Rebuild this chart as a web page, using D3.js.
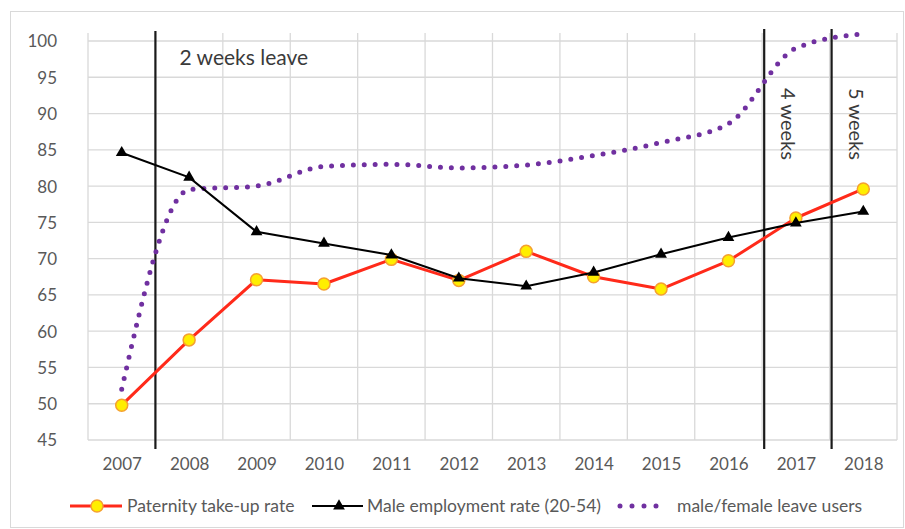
<!DOCTYPE html>
<html>
<head>
<meta charset="utf-8">
<script src="https://cdn.jsdelivr.net/npm/d3@7"></script>
<style>
  body { margin: 0; background: #fff; }
  text { font-family: Lato, "Open Sans", sans-serif; }
</style>
</head>
<body>
<div id="chart"></div>
<script>
// data
const years = [2007, 2008, 2009, 2010, 2011, 2012, 2013, 2014, 2015, 2016, 2017, 2018];
const paternityRate = [49.8, 58.8, 67.1, 66.5, 69.9, 67.0, 71.0, 67.5, 65.8, 69.7, 75.6, 79.6];
const employmentRate = [84.6, 81.2, 73.7, 72.1, 70.5, 67.3, 66.2, 68.1, 70.6, 72.9, 74.9, 76.5];
const leaveUsers = [52.0, 79.5, 80.0, 82.7, 83.0, 82.5, 82.9, 84.2, 86.0, 88.6, 99.0, 101.0];
const yTicks = [45, 50, 55, 60, 65, 70, 75, 80, 85, 90, 95, 100];
const events = [
  { year: 2007.5, label: "2 weeks leave", vertical: false },
  { year: 2016.53, label: "4 weeks", vertical: true },
  { year: 2017.53, label: "5 weeks", vertical: true },
];
const seriesNames = ["Paternity take-up rate", "Male employment rate (20-54)", "male/female leave users"];

const W = 905, H = 529;
const plot = { left: 88, right: 897, top: 33, bottom: 440 };
const GRID = "#d9d9d9", LABEL = "#595959";

const svg = d3.select("#chart").append("svg").attr("width", W).attr("height", H);

// chart border
svg.append("rect")
  .attr("x", 10.5).attr("y", 11.5)
  .attr("width", W - 12).attr("height", H - 13)
  .attr("fill", "none").attr("stroke", GRID);

const x = d3.scaleLinear().domain([2006.5, 2018.5]).range([plot.left, plot.right]);
const y = d3.scaleLinear().domain([45, 101.1]).range([plot.bottom, plot.top]);

// grid
const grid = svg.append("g");
grid.selectAll(".h").data(yTicks).join("line")
  .attr("x1", plot.left).attr("x2", plot.right)
  .attr("y1", (d) => y(d)).attr("y2", (d) => y(d))
  .attr("stroke", GRID).attr("stroke-width", 1.3);
grid.selectAll(".v").data(d3.range(years.length + 1)).join("line")
  .attr("x1", (i) => x(2006.5 + i)).attr("x2", (i) => x(2006.5 + i))
  .attr("y1", plot.top).attr("y2", plot.bottom)
  .attr("stroke", GRID).attr("stroke-width", 1.3);

// axes
const yAxis = svg.append("g")
  .attr("transform", `translate(${plot.left - 31},0)`)
  .call(d3.axisLeft(y).tickValues(yTicks).tickSize(0).tickPadding(0));
yAxis.select(".domain").remove();
yAxis.selectAll("text").attr("fill", LABEL).style("font-size", "17px").attr("dy", "0.35em");

const xAxis = svg.append("g")
  .attr("transform", `translate(0,${plot.bottom + 18})`)
  .call(d3.axisBottom(x).tickValues(years).tickFormat(d3.format("d")).tickSize(0).tickPadding(0));
xAxis.select(".domain").remove();
xAxis.selectAll("text").attr("fill", LABEL).style("font-size", "17px");

// event lines
const ev = svg.append("g");
ev.selectAll("line").data(events).join("line")
  .attr("x1", (d) => x(d.year)).attr("x2", (d) => x(d.year))
  .attr("y1", (d) => (d.vertical ? 29 : 31)).attr("y2", 449)
  .attr("stroke", "#1a1a1a").attr("stroke-width", 2.2);
ev.selectAll("text").data(events).join("text")
  .text((d) => d.label)
  .attr("fill", "#3a3a3a")
  .style("font-size", (d) => (d.vertical ? "20px" : "21px"))
  .attr("transform", (d) =>
    d.vertical
      ? `translate(${x(d.year) + 17},88) rotate(90)`
      : `translate(${x(d.year) + 24},65)`
  );

// series
const leaveData = years.map((yr, i) => [yr, leaveUsers[i]]);
const patData = years.map((yr, i) => [yr, paternityRate[i]]);
const empData = years.map((yr, i) => [yr, employmentRate[i]]);

svg.append("path")
  .datum(leaveData)
  .attr("fill", "none")
  .attr("stroke", "#7030a0")
  .attr("stroke-width", 5)
  .attr("stroke-linecap", "round")
  .attr("stroke-dasharray", "0 10.9")
  .attr("d", d3.line().x((d) => x(d[0])).y((d) => y(d[1])).curve(d3.curveMonotoneX));

const lineGen = d3.line().x((d) => x(d[0])).y((d) => y(d[1]));

svg.append("path")
  .datum(patData)
  .attr("fill", "none").attr("stroke", "#ff2a1a").attr("stroke-width", 3)
  .attr("stroke-linejoin", "round")
  .attr("d", lineGen);
svg.append("g").selectAll("circle").data(patData).join("circle")
  .attr("cx", (d) => x(d[0])).attr("cy", (d) => y(d[1])).attr("r", 6)
  .attr("fill", "#ffee00").attr("stroke", "#f5a030").attr("stroke-width", 1.5);

svg.append("path")
  .datum(empData)
  .attr("fill", "none").attr("stroke", "#000").attr("stroke-width", 2)
  .attr("d", lineGen);
const tri = d3.symbol().type(d3.symbolTriangle).size(60);
svg.append("g").selectAll("path").data(empData).join("path")
  .attr("transform", (d) => `translate(${x(d[0])},${y(d[1])})`)
  .attr("d", tri).attr("fill", "#000");

// legend
const ly = 506;
const legend = svg.append("g");
legend.append("line").attr("x1", 70).attr("x2", 122).attr("y1", ly).attr("y2", ly)
  .attr("stroke", "#ff2a1a").attr("stroke-width", 3);
legend.append("circle").attr("cx", 97).attr("cy", ly).attr("r", 6)
  .attr("fill", "#ffee00").attr("stroke", "#f5a030").attr("stroke-width", 1.5);
legend.append("line").attr("x1", 312).attr("x2", 363).attr("y1", ly).attr("y2", ly)
  .attr("stroke", "#000").attr("stroke-width", 2);
legend.append("path").attr("transform", `translate(339,${ly})`).attr("d", tri).attr("fill", "#000");
legend.append("line").attr("x1", 620).attr("x2", 668).attr("y1", ly).attr("y2", ly)
  .attr("stroke", "#7030a0").attr("stroke-width", 5).attr("stroke-linecap", "round")
  .attr("stroke-dasharray", "0 12");
legend.selectAll("text").data(seriesNames).join("text")
  .text((d) => d)
  .attr("x", (_, i) => [127, 367, 677][i])
  .attr("y", ly).attr("dy", "0.35em")
  .attr("fill", LABEL)
  .style("font-size", "17.5px");
</script>
</body>
</html>
